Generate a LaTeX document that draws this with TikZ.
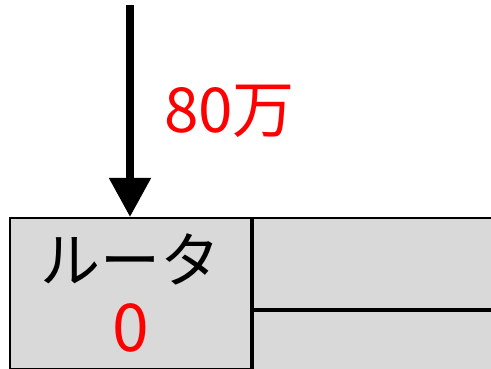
\documentclass[tikz,border=0pt]{standalone}
\usepackage{fontspec}
\setmainfont{Noto Sans CJK JP}
\usepackage{xcolor}
\usetikzlibrary{positioning, arrows.meta}
\definecolor{cellgray}{HTML}{D9D9D9}
\definecolor{numred}{HTML}{FF0000}

\begin{document}
\begin{tikzpicture}[x=1pt, y=-1pt, >={Triangle[width=40pt,length=39pt]},
    cell/.style={draw, fill=cellgray, line width=2pt, inner sep=0pt, anchor=north west},
    big/.style={font=\fontsize{60}{70}\selectfont},
    num/.style={font=\fontsize{62}{70}\selectfont}]
    \useasboundingbox (0,0) rectangle (491,369);
    \node[cell, minimum width=241pt, minimum height=151pt, align=center, big] (router) at (9,217)
      {\raisebox{-3pt}{ルータ}\\[2pt]{\fontsize{66}{70}\selectfont\textcolor{numred}{0}}};
    \node[cell, minimum width=260pt, minimum height=91pt] (upper) at (router.north east) {};
    \node[cell, minimum width=260pt, minimum height=60pt] (lower) at (upper.south west) {};
    \coordinate (top) at (130,5);
    \draw[->, line width=8pt] (top) -- (router.north -| top)
      node[midway, right=30pt, inner sep=0pt, num, text=numred] (amount) {80万};
  \end{tikzpicture}
\end{document}
